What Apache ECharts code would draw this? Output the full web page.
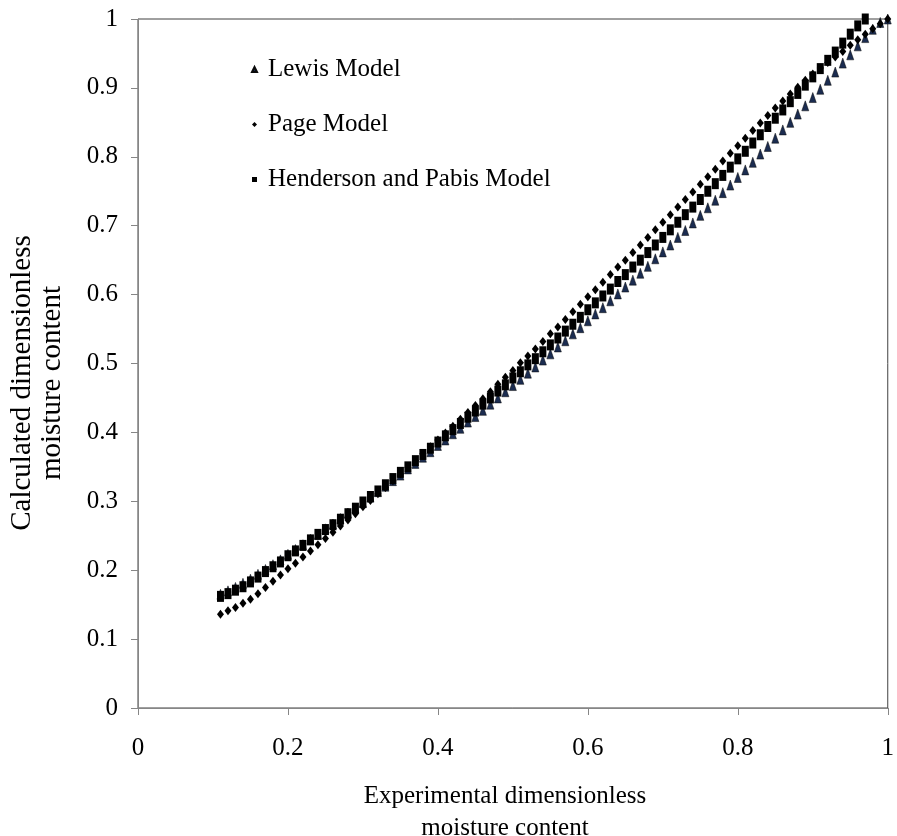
<!DOCTYPE html>
<html>
<head>
<meta charset="utf-8">
<script src="https://cdn.jsdelivr.net/npm/echarts@6/dist/echarts.min.js"></script>
<style>
  html, body { margin: 0; padding: 0; background: #fff; }
  #main { width: 897px; height: 836px; }
</style>
</head>
<body>
<div id="main"></div>
<script>
// experimental dimensionless moisture content (x)
const experimental = [
  0.11, 0.12, 0.13, 0.14, 0.15, 0.16, 0.17, 0.18, 0.19, 0.20,
  0.21, 0.22, 0.23, 0.24, 0.25, 0.26, 0.27, 0.28, 0.29, 0.30,
  0.31, 0.32, 0.33, 0.34, 0.35, 0.36, 0.37, 0.38, 0.39, 0.40,
  0.41, 0.42, 0.43, 0.44, 0.45, 0.46, 0.47, 0.48, 0.49, 0.50,
  0.51, 0.52, 0.53, 0.54, 0.55, 0.56, 0.57, 0.58, 0.59, 0.60,
  0.61, 0.62, 0.63, 0.64, 0.65, 0.66, 0.67, 0.68, 0.69, 0.70,
  0.71, 0.72, 0.73, 0.74, 0.75, 0.76, 0.77, 0.78, 0.79, 0.80,
  0.81, 0.82, 0.83, 0.84, 0.85, 0.86, 0.87, 0.88, 0.89, 0.90,
  0.91, 0.92, 0.93, 0.94, 0.95, 0.96, 0.97, 0.98, 0.99, 1.00
];

// calculated values for each model
const lewis = [
  0.165, 0.170, 0.175, 0.181, 0.187, 0.194, 0.201, 0.208, 0.215, 0.223,
  0.230, 0.237, 0.245, 0.252, 0.260, 0.267, 0.275, 0.283, 0.290, 0.298,
  0.306, 0.314, 0.322, 0.330, 0.338, 0.347, 0.355, 0.364, 0.372, 0.381,
  0.389, 0.398, 0.406, 0.415, 0.423, 0.432, 0.441, 0.450, 0.459, 0.468,
  0.477, 0.486, 0.495, 0.505, 0.514, 0.524, 0.533, 0.543, 0.552, 0.562,
  0.572, 0.581, 0.591, 0.601, 0.611, 0.621, 0.631, 0.641, 0.652, 0.662,
  0.672, 0.683, 0.693, 0.704, 0.715, 0.726, 0.737, 0.748, 0.759, 0.770,
  0.781, 0.792, 0.804, 0.815, 0.827, 0.839, 0.850, 0.862, 0.874, 0.886,
  0.898, 0.911, 0.923, 0.936, 0.948, 0.961, 0.973, 0.985, 0.995, 1.000
];

const page = [
  0.136, 0.141, 0.146, 0.152, 0.158, 0.166, 0.175, 0.184, 0.193, 0.202,
  0.210, 0.219, 0.228, 0.237, 0.246, 0.255, 0.264, 0.273, 0.282, 0.292,
  0.301, 0.311, 0.320, 0.330, 0.340, 0.349, 0.359, 0.369, 0.379, 0.389,
  0.399, 0.409, 0.419, 0.429, 0.439, 0.449, 0.459, 0.470, 0.480, 0.490,
  0.501, 0.511, 0.521, 0.532, 0.543, 0.553, 0.564, 0.575, 0.586, 0.597,
  0.607, 0.618, 0.629, 0.640, 0.650, 0.661, 0.672, 0.683, 0.694, 0.705,
  0.716, 0.727, 0.738, 0.749, 0.760, 0.771, 0.782, 0.794, 0.805, 0.816,
  0.827, 0.838, 0.849, 0.860, 0.871, 0.881, 0.891, 0.901, 0.911, 0.920,
  0.929, 0.937, 0.945, 0.953, 0.962, 0.970, 0.978, 0.986, 0.993, 1.000
];

const henderson = [
  0.162, 0.166, 0.171, 0.176, 0.183, 0.190, 0.198, 0.205, 0.212, 0.221,
  0.228, 0.236, 0.244, 0.252, 0.259, 0.266, 0.274, 0.282, 0.290, 0.299,
  0.307, 0.315, 0.324, 0.333, 0.342, 0.350, 0.359, 0.368, 0.377, 0.386,
  0.395, 0.404, 0.413, 0.422, 0.431, 0.441, 0.450, 0.460, 0.469, 0.479,
  0.488, 0.498, 0.507, 0.517, 0.527, 0.537, 0.547, 0.557, 0.567, 0.578,
  0.588, 0.598, 0.608, 0.619, 0.629, 0.640, 0.650, 0.661, 0.672, 0.683,
  0.694, 0.705, 0.716, 0.727, 0.738, 0.750, 0.761, 0.773, 0.785, 0.797,
  0.808, 0.820, 0.832, 0.844, 0.856, 0.868, 0.880, 0.892, 0.904, 0.916,
  0.928, 0.940, 0.952, 0.965, 0.978, 0.990, 1.000, 1.012, 1.024, 1.036
];

const seriesNames = ['Lewis Model', 'Page Model', 'Henderson and Pabis Model'];

const pairs = function (ys) {
  return experimental.map((x, i) => [x, ys[i]]);
};

const font = '"Liberation Serif", "Times New Roman", serif';

let chart = echarts.init(document.getElementById('main'));
chart.setOption({
  animation: false,
  backgroundColor: '#fff',
  grid: {
    left: 138, top: 19, width: 756, height: 689,
    show: true, borderColor: '#404040', borderWidth: 1
  },
  legend: {
    orient: 'vertical',
    left: 246, top: 52,
    itemGap: 30,
    itemWidth: 5, itemHeight: 5,
    textStyle: { fontFamily: font, fontSize: 25, color: '#000', padding: [0, 0, 0, 6] },
    data: seriesNames
  },
  xAxis: {
    type: 'value', min: 0, max: 1, interval: 0.2,
    splitLine: { show: false },
    axisLine: { onZero: false, lineStyle: { color: '#868686', width: 1 } },
    axisTick: { show: true, inside: false, length: 7, lineStyle: { color: '#868686' } },
    axisLabel: { fontFamily: font, fontSize: 25, color: '#000', margin: 28,
      formatter: v => String(+v.toFixed(1)) }
  },
  yAxis: {
    type: 'value', min: 0, max: 1, interval: 0.1,
    splitLine: { show: false },
    axisLine: { show: true, onZero: false, lineStyle: { color: '#868686', width: 1 } },
    axisTick: { show: true, inside: false, length: 7, lineStyle: { color: '#868686' } },
    axisLabel: { fontFamily: font, fontSize: 25, color: '#000', margin: 20,
      formatter: v => String(+v.toFixed(1)) }
  },
  graphic: [
    {
      type: 'text', x: 37, y: 383, rotation: Math.PI / 2,
      style: {
        text: 'Calculated dimensionless\nmoisture content',
        font: '29px ' + font, fill: '#000',
        align: 'center', verticalAlign: 'middle', lineHeight: 30
      }
    },
    {
      type: 'text', x: 505, y: 812,
      style: {
        text: 'Experimental dimensionless\nmoisture content',
        font: '25px ' + font, fill: '#000',
        align: 'center', verticalAlign: 'middle', lineHeight: 32
      }
    }
  ],
  series: [
    {
      name: seriesNames[0], type: 'scatter', symbol: 'triangle', symbolSize: [7, 10],
      itemStyle: { color: '#1B2C50', borderColor: '#0a0a0a', borderWidth: 0.5, opacity: 1 },
      data: pairs(lewis)
    },
    {
      name: seriesNames[1], type: 'scatter', symbol: 'diamond', symbolSize: [7, 9],
      itemStyle: { color: '#000', opacity: 1 },
      data: pairs(page)
    },
    {
      name: seriesNames[2], type: 'scatter', symbol: 'rect', symbolSize: [7, 11],
      itemStyle: { color: '#000', opacity: 1 },
      data: pairs(henderson)
    }
  ]
});
</script>
</body>
</html>
